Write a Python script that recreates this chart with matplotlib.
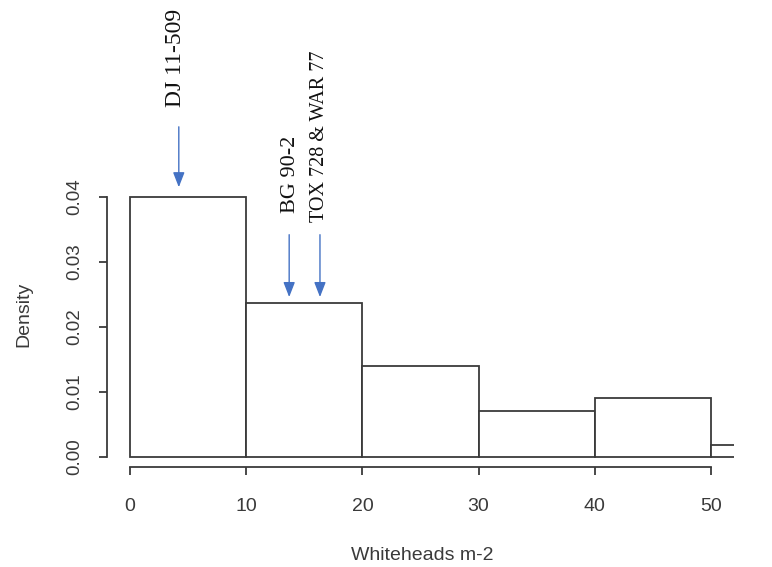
import matplotlib
matplotlib.use("Agg")
import matplotlib.pyplot as plt

# Data
bin_edges = [0, 10, 20, 30, 40, 50, 60]
density = [0.040, 0.0237, 0.0140, 0.0071, 0.0091, 0.0018]
x_ticks = [0, 10, 20, 30, 40, 50]
y_ticks = [0.00, 0.01, 0.02, 0.03, 0.04]
y_ticklabels = ["0.00", "0.01", "0.02", "0.03", "0.04"]
cultivars = ["DJ 11-509", "BG 90-2", "TOX 728 & WAR 77"]
cultivar_values = [4.2, 13.7, 16.35]

fig = plt.figure(figsize=(7.72, 5.67), dpi=100)
ax = fig.add_axes([0.1383, 0.1757, 0.8127, 0.4952])

edge = "#3a3a3a"
lefts = bin_edges[:-1]
widths = [b - a for a, b in zip(bin_edges[:-1], bin_edges[1:])]
ax.bar(lefts, density, width=widths, align="edge", facecolor="white",
       edgecolor=edge, linewidth=1.3)

ax.set_xlim(-2, 52)
ax.set_ylim(-0.0016, 0.0416)

for s in ["top", "right"]:
    ax.spines[s].set_visible(False)
ax.spines["left"].set_bounds(0, 0.04)
ax.spines["bottom"].set_bounds(0, 50)
for s in ["left", "bottom"]:
    ax.spines[s].set_color(edge)
    ax.spines[s].set_linewidth(1.3)

ax.set_xticks(x_ticks)
ax.set_yticks(y_ticks)
ax.set_yticklabels(y_ticklabels, rotation=90, va="center")
ax.tick_params(axis="both", direction="out", length=6, width=1.3, color=edge,
               labelcolor="#3a3a3a")
ax.tick_params(axis="x", pad=16, labelsize=14)
ax.tick_params(axis="y", pad=11, labelsize=13.5)

ax.set_xlabel("Whiteheads m-2", fontsize=14, color="#3a3a3a",
              family="Liberation Sans", va="center")
ax.set_ylabel("Density", fontsize=14, color="#3a3a3a",
              family="Liberation Sans", va="center")
ax.xaxis.set_label_coords(0.503, -0.313)
ax.yaxis.set_label_coords(-0.132, 0.545)
for lab in ax.get_xticklabels() + ax.get_yticklabels():
    lab.set_family("Liberation Sans")

blue = "#4472C4"
arrow_top = [0.0508, 0.0342, 0.0342]
arrow_tip = [0.0415, 0.0246, 0.0246]
text_y = [0.0539, 0.0376, 0.0362]
text_size = [17, 16, 14.5]
text_dx = [-0.25, 0.1, 0.0]
for name, xv, yt, yp, ty, fs, dx in zip(cultivars, cultivar_values, arrow_top,
                                         arrow_tip, text_y, text_size, text_dx):
    ax.annotate("", xy=(xv, yp), xytext=(xv, yt),
                arrowprops=dict(arrowstyle="-|>,head_length=0.9,head_width=0.35",
                                color=blue, lw=1.0, shrinkA=0, shrinkB=0),
                annotation_clip=False)
    ax.text(xv + dx, ty, name, rotation=90, ha="center", va="bottom",
            fontsize=fs, family="Liberation Serif", color="#111111",
            clip_on=False)

fig.savefig("out.png", dpi=100)
